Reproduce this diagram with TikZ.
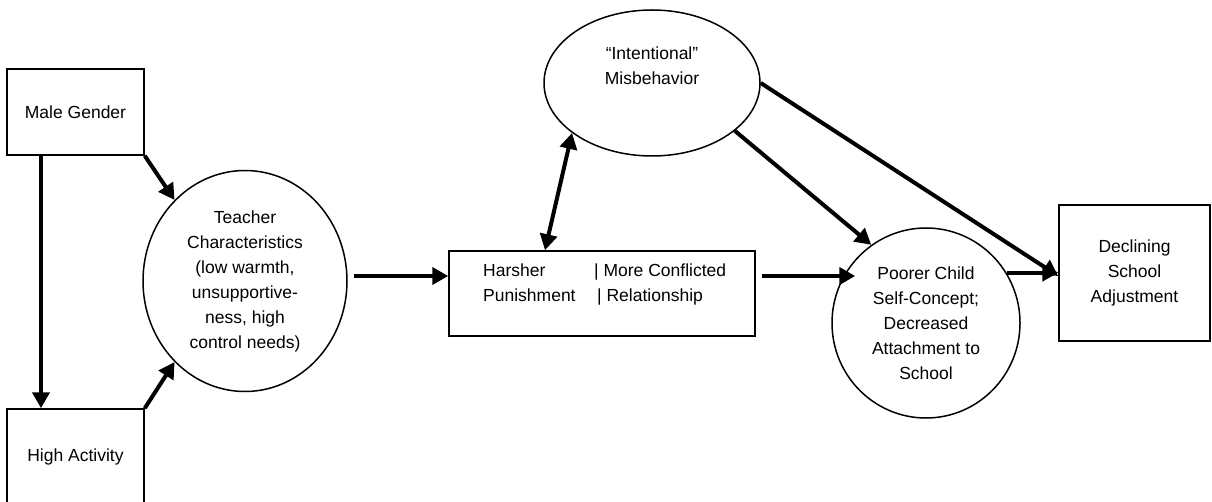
\documentclass[tikz,border=0pt]{standalone}
\usepackage{fontspec}
\setmainfont{Liberation Sans}
\usetikzlibrary{arrows.meta, shapes.geometric, positioning}

\begin{document}
\begin{tikzpicture}[x=1pt, y=-1pt, on grid,
	font=\fontsize{17.5}{25}\selectfont,
	box/.style={draw, line width=1.5pt, inner sep=0pt, align=center},
	oval/.style={draw, ellipse, line width=1.5pt, inner sep=0pt, align=center},
	txt/.style={inner sep=0pt, align=center},
	arr/.style={line width=4pt, -{Triangle[length=16pt, width=17pt]}},
	darr/.style={line width=4pt, {Triangle[length=16pt, width=17pt]}-{Triangle[length=16pt, width=17pt]}}]
	\useasboundingbox (0,0) rectangle (1212,502);
	
	\node[box, minimum width=137pt, minimum height=86pt] (male) at (75.5,112) {Male Gender};
	\node[box, minimum width=137pt, minimum height=96pt, below=345pt of male] (high) {High Activity};
	
	\node[oval, minimum width=204pt, minimum height=221pt] (teacher) at (245,281)
		{Teacher\\Characteristics\\(low warmth,\\unsupportive-\\ness, high\\control needs)};
	
	\node[box, minimum width=306pt, minimum height=85pt] (punish) at (602,293.5) {};
	\node[txt, anchor=west, align=left] (punishtxt) at (483,285)
		{\makebox[111pt][l]{Harsher}| More Conflicted\\\makebox[114pt][l]{Punishment}| Relationship};
	
	\node[oval, minimum width=216pt, minimum height=146pt] (intent) at (652,83) {};
	\node[txt, above=17pt of intent] (intenttxt) {“Intentional”\\Misbehavior};
	
	\node[oval, minimum width=188pt, minimum height=190pt] (poorer) at (926,323)
		{Poorer Child\\Self-Concept;\\Decreased\\Attachment to\\School};
	
	\node[box, minimum width=151pt, minimum height=136pt] (declining) at (1134.5,273)
		{Declining\\School\\Adjustment};
	
	% paths
	\coordinate (tout) at ([xshift=6pt, yshift=5pt]teacher.east);
	\coordinate (pout) at (punish.east |- tout);
	\coordinate (pin) at (tout -| poorer.west);
	
	\draw[arr] ([xshift=-34.5pt]male.south) -- ([xshift=-34.5pt]high.north);
	\draw[arr] (male.south east) -- (teacher.131);
	\draw[arr] (high.north east) -- (teacher.229);
	\draw[arr] (tout) -- (tout -| punish.west);
	\draw[arr] ([xshift=6pt]pout) -- ([xshift=24pt]pin);
	\draw[darr] ([xshift=-57pt]punish.north) -- (intent.212);
	\draw[arr] (intent.-30) -- (poorer.125);
	\draw[arr] (intent.east) -- ([yshift=-3pt]declining.west);
	\draw[arr] (poorer.32) -- (poorer.32 -| declining.west);
\end{tikzpicture}
\end{document}
